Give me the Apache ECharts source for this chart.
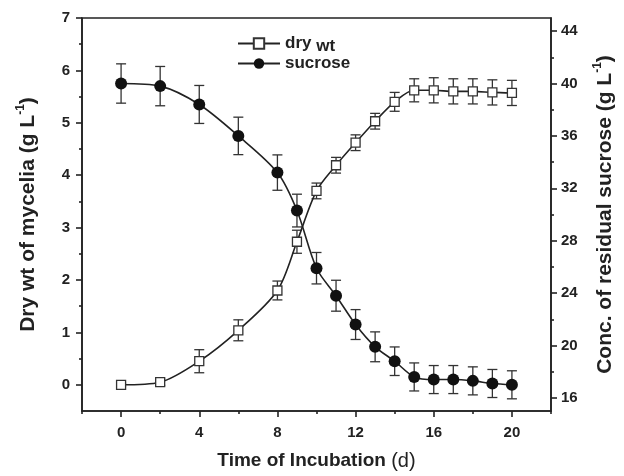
<!DOCTYPE html>
<html><head><meta charset="utf-8">
<script src="https://cdn.jsdelivr.net/npm/echarts@6/dist/echarts.min.js"></script>
<style>html,body{margin:0;padding:0;background:#fff}#c{width:624px;height:476px}</style>
</head><body><div id="c"></div>
<script>
const days = [0, 2, 4, 6, 8, 9, 10, 11, 12, 13, 14, 15, 16, 17, 18, 19, 20];
const dryWt = [0.0, 0.05, 0.45, 1.04, 1.80, 2.73, 3.70, 4.19, 4.62, 5.03, 5.40, 5.62, 5.62, 5.60, 5.60, 5.58, 5.57];
const dryWtErr = [0.03, 0.06, 0.22, 0.20, 0.18, 0.22, 0.15, 0.15, 0.15, 0.15, 0.18, 0.22, 0.24, 0.24, 0.24, 0.24, 0.24];
const sucrose = [40.0, 39.8, 38.4, 36.0, 33.2, 30.3, 25.9, 23.8, 21.6, 19.9, 18.8, 17.6, 17.4, 17.4, 17.3, 17.1, 17.0];
const sucroseErr = [1.5, 1.5, 1.45, 1.43, 1.35, 1.25, 1.2, 1.18, 1.14, 1.14, 1.09, 1.07, 1.07, 1.07, 1.07, 1.07, 1.07];
const xTicks = [0, 4, 8, 12, 16, 20];
const xMinorTicks = [-2, 2, 6, 10, 14, 18, 22];
const leftTicks = [0, 1, 2, 3, 4, 5, 6, 7];
const leftMinorTicks = [0.5, 1.5, 2.5, 3.5, 4.5, 5.5, 6.5];
const rightTicks = [16, 20, 24, 28, 32, 36, 40, 44];
const rightMinorTicks = [18, 22, 26, 30, 34, 38, 42];

const ink = '#222';
const font = '"Liberation Sans", Arial, sans-serif';
const lab = {color: ink, fontFamily: font, fontWeight: 'bold', fontSize: 15};

function errRender(params, api) {
  const x = api.value(0), lo = api.value(1), hi = api.value(2);
  const p1 = api.coord([x, hi]), p2 = api.coord([x, lo]);
  const w = 5;
  const style = {stroke: '#333', lineWidth: 1.3};
  return {type: 'group', children: [
    {type: 'line', shape: {x1: p1[0], y1: p1[1], x2: p2[0], y2: p2[1]}, style: style},
    {type: 'line', shape: {x1: p1[0] - w, y1: p1[1], x2: p1[0] + w, y2: p1[1]}, style: style},
    {type: 'line', shape: {x1: p2[0] - w, y1: p2[1], x2: p2[0] + w, y2: p2[1]}, style: style}
  ]};
}

const chart = echarts.init(document.getElementById('c'), null, {renderer: 'canvas'});
const axisLine = {show: true, onZero: false, lineStyle: {color: ink, width: 1.6}};
const noLine = {show: false, onZero: false};
const yNameRich = {
  t: {color: ink, fontFamily: font, fontWeight: 'bold', fontSize: 21, lineHeight: 27},
  s: {color: ink, fontFamily: font, fontWeight: 'bold', fontSize: 12, lineHeight: 27, verticalAlign: 'top', padding: [0, 0, 9, 0]}
};
const xNameRich = {
  t: {color: ink, fontFamily: font, fontWeight: 'bold', fontSize: 19, lineHeight: 24},
  n: {color: ink, fontFamily: font, fontWeight: 'normal', fontSize: 20, lineHeight: 24}
};
chart.setOption({
  animation: false,
  backgroundColor: '#fff',
  grid: {left: 82, right: 71, top: 18, bottom: 63, show: true, borderColor: ink, borderWidth: 1.6, backgroundColor: 'transparent'},
  legend: {
    orient: 'vertical', left: 232, top: 27, itemWidth: 42, itemHeight: 13, itemGap: 0,
    data: ['dry wt', 'sucrose'],
    formatter: function (n) { return n === 'dry wt' ? '{a|dry }{b|wt}' : '{a|' + n + '}'; },
    textStyle: {rich: {
      a: {color: ink, fontFamily: font, fontWeight: 'bold', fontSize: 17, lineHeight: 20},
      b: {color: ink, fontFamily: font, fontWeight: 'bold', fontSize: 17, lineHeight: 20, padding: [6, 0, 0, 0]}
    }}
  },
  xAxis: [{
    type: 'value', min: -2, max: 22, position: 'bottom',
    axisLine: axisLine, splitLine: {show: false},
    axisTick: {show: true, customValues: xTicks, length: 6, lineStyle: {color: ink, width: 1.6}},
    axisLabel: Object.assign({customValues: xTicks, margin: 14}, lab),
    name: '{t|Time of Incubation }{n|(d)}', nameLocation: 'middle', nameGap: 38,
    nameTextStyle: {rich: xNameRich}
  }, {
    type: 'value', min: -2, max: 22, position: 'bottom',
    axisLine: noLine, splitLine: {show: false}, axisLabel: {show: false},
    axisTick: {show: true, customValues: xMinorTicks, length: 3, lineStyle: {color: ink, width: 1.6}}
  }],
  yAxis: [{
    type: 'value', min: -0.5, max: 7, position: 'left',
    axisLine: axisLine, splitLine: {show: false},
    axisTick: {show: true, customValues: leftTicks, length: 6, lineStyle: {color: ink, width: 1.6}},
    axisLabel: Object.assign({customValues: leftTicks, margin: 12}, lab),
    name: '{t|Dry wt of mycelia (g L}{s|-1}{t|)}', nameLocation: 'middle', nameGap: 40,
    nameTextStyle: {rich: yNameRich}
  }, {
    type: 'value', min: 15, max: 45, position: 'right',
    axisLine: axisLine, splitLine: {show: false},
    axisTick: {show: true, customValues: rightTicks, length: 6, lineStyle: {color: ink, width: 1.6}},
    axisLabel: Object.assign({customValues: rightTicks, margin: 10}, lab),
    name: '{t|Conc. of residual sucrose (g L}{s|-1}{t|)}', nameLocation: 'middle', nameGap: 41,
    nameTextStyle: {rich: yNameRich}
  }, {
    type: 'value', min: -0.5, max: 7, position: 'left',
    axisLine: noLine, splitLine: {show: false}, axisLabel: {show: false},
    axisTick: {show: true, customValues: leftMinorTicks, length: 3, lineStyle: {color: ink, width: 1.6}}
  }, {
    type: 'value', min: 15, max: 45, position: 'right',
    axisLine: noLine, splitLine: {show: false}, axisLabel: {show: false},
    axisTick: {show: true, customValues: rightMinorTicks, length: 3, lineStyle: {color: ink, width: 1.6}}
  }],
  series: [{
    type: 'custom', name: 'dryErr', xAxisIndex: 0, yAxisIndex: 0, z: 1,
    renderItem: errRender,
    data: days.map((d, i) => [d, dryWt[i] - dryWtErr[i], dryWt[i] + dryWtErr[i]])
  }, {
    type: 'custom', name: 'sucErr', xAxisIndex: 0, yAxisIndex: 1, z: 1,
    renderItem: errRender,
    data: days.map((d, i) => [d, sucrose[i] - sucroseErr[i], sucrose[i] + sucroseErr[i]])
  }, {
    type: 'line', name: 'dry wt', xAxisIndex: 0, yAxisIndex: 0, z: 3,
    smooth: 0.3, symbol: 'rect', symbolSize: 9, showAllSymbol: true,
    lineStyle: {color: ink, width: 1.6},
    itemStyle: {color: '#fff', borderColor: '#333', borderWidth: 1.3},
    data: days.map((d, i) => [d, dryWt[i]])
  }, {
    type: 'line', name: 'sucrose', xAxisIndex: 0, yAxisIndex: 1, z: 3,
    smooth: 0.3, symbol: 'circle', symbolSize: 12, showAllSymbol: true,
    lineStyle: {color: ink, width: 1.6},
    itemStyle: {color: '#111', borderColor: '#111', borderWidth: 0},
    data: days.map((d, i) => [d, sucrose[i]])
  }]
});
</script></body></html>
